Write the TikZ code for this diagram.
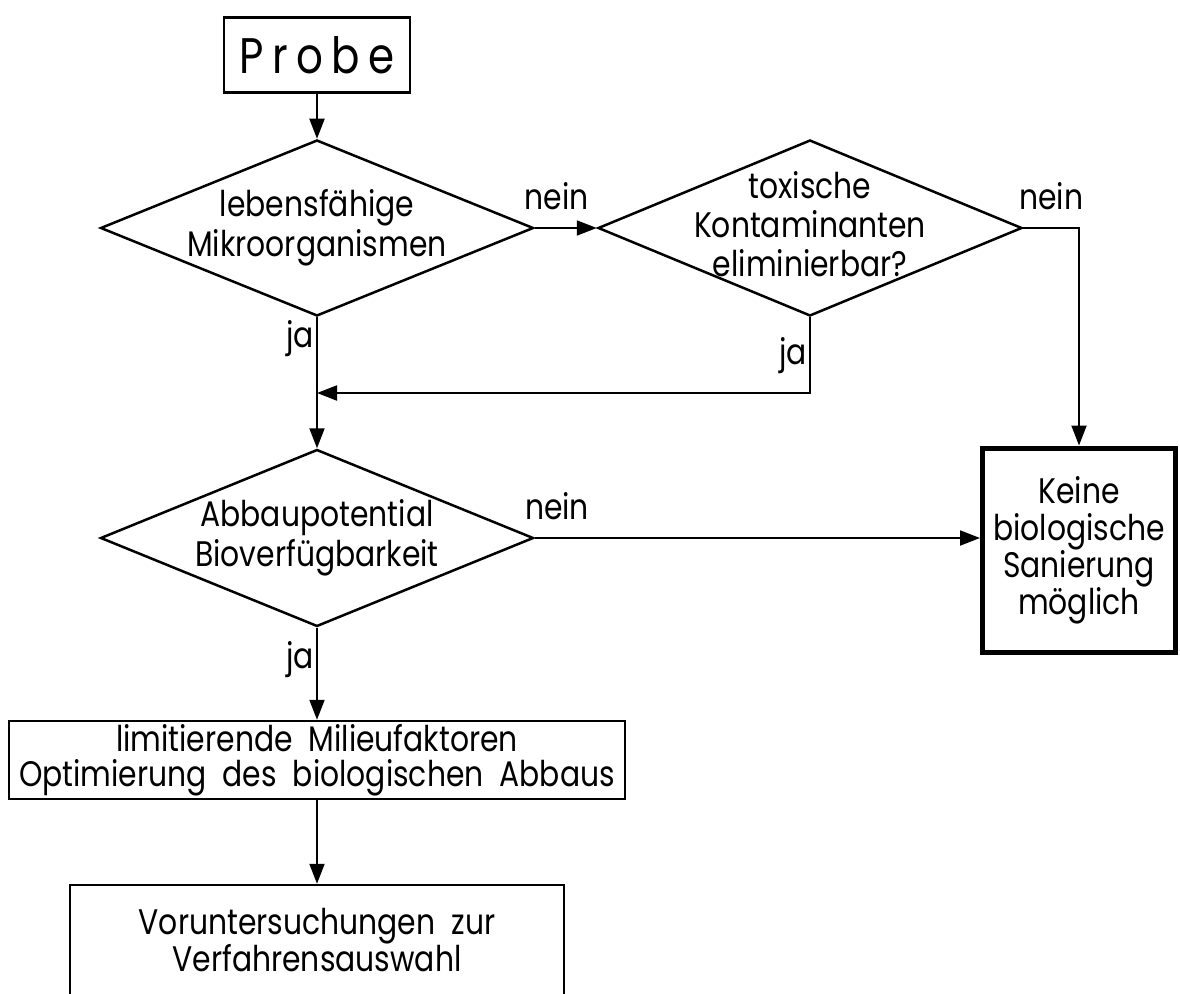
\documentclass[tikz,border=0pt]{standalone}
\usepackage{fontspec}
\setmainfont{Poppins}[FakeStretch=0.84]
\usetikzlibrary{shapes.geometric,arrows.meta,positioning}

\tikzset{
  box/.style={draw, line width=2.5pt, inner sep=0pt, align=center},
  dia/.style={draw, diamond, line width=2.5pt, inner sep=0pt,
    minimum width=433pt, minimum height=176pt},
  txt/.style={align=center, inner sep=0pt,
    font=\fontsize{35.5}{40}\selectfont},
  lab/.style={inner sep=2pt, font=\fontsize{35.5}{40}\selectfont},
  flow/.style={line width=2pt, -{Triangle[length=20pt,width=15pt]}},
}

\begin{document}
\begin{tikzpicture}[x=1pt,y=-1pt]

\useasboundingbox (0,0) rectangle (1180,993);
\clip (0,0) rectangle (1180,993);

% start
\node[box, minimum width=186pt, minimum height=75pt,
  font=\fontsize{50}{52}\selectfont] (probe) at (317,55) {P\,r\,o\,b\,e};

% decisions
\node[dia] (d1) at (317,228) {};
\node[txt] (d1txt) at (d1) {lebensfähige\\Mikroorganismen};

\node[dia, minimum width=424pt] (d2) at (810,228) {};
\node[txt, font=\fontsize{35.5}{39}\selectfont] (d2txt) at (810,224)
  {toxische\\Kontaminanten\\eliminierbar?};

\node[dia, minimum height=177pt] (d3) at (317,538) {};
\node[txt] (d3txt) at (d3) {Abbaupotential\\Bioverfügbarkeit};

% end states
\node[box, line width=5pt, minimum width=193pt, minimum height=204pt,
  txt, font=\fontsize{35.5}{37}\selectfont] (keine) at (1079,550)
  {Keine\\biologische\\Sanierung\\möglich};

\node[box, txt, font=\fontsize{35.5}{35}\selectfont,
  minimum width=616pt, minimum height=78pt] (lim) at (317,760)
  {limitierende\ \ Milieufaktoren\\Optimierung\ \ des\ \ biologischen\ \ Abbaus};

\node[box, txt, font=\fontsize{35.5}{36}\selectfont,
  minimum width=494pt, minimum height=110pt] (vor) at (317,940)
  {Voruntersuchungen\ \ zur\\Verfahrensauswahl};

\coordinate (join) at (317,393);

% connectors
\draw[flow] (probe) -- (d1);
\draw[flow] (d1.east) -- node[lab, pos=0.35, above=15pt] {nein} (d2.west);
\draw[flow] (d2.east) -| node[lab, pos=0.25, above=15pt] {nein} (keine.north);
\draw[flow] (d2.south) |- node[lab, pos=0.25, left] {ja} (join);
\draw[flow] (d1.south) -- node[lab, pos=0, anchor=north east] {ja} (d3.north);
\draw[flow] (d3.east) -- node[lab, pos=0.05, above=15pt] {nein} (d3.east -| keine.west);
\draw[flow] (d3.south) -- node[lab, pos=0.35, left] {ja} (lim.north);
\draw[flow] (lim.south) -- (vor.north);

\end{tikzpicture}
\end{document}
